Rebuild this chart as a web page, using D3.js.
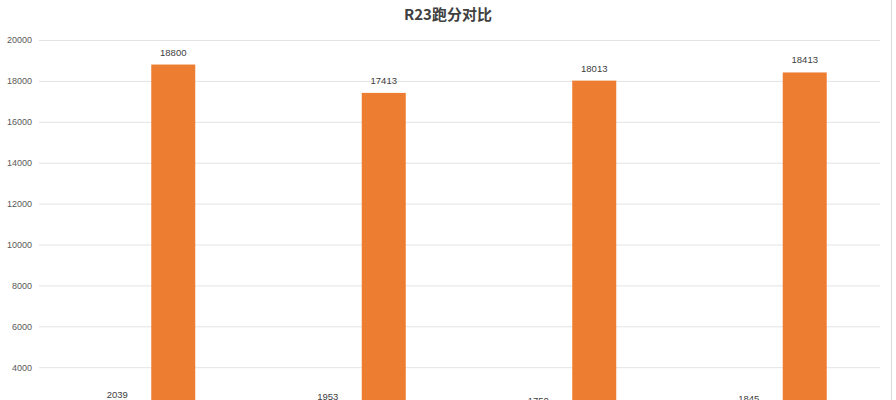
<!DOCTYPE html>
<html lang="zh">
<head>
<meta charset="UTF-8" />
<title>R23跑分对比</title>
<style>
  body { margin: 0; background: #fff; }
  svg { display: block; font-family: "Noto Sans CJK SC", "Noto Sans", sans-serif; }
</style>
</head>
<body>
<svg id="svg" width="896" height="400"></svg>
<script src="https://d3js.org/d3.v7.min.js"></script>
<script>
  // chart data
  const categories = ['1', '2', '3', '4'];
  const seriesNames = ['单核', '多核'];
  const singleCore = [2039, 1953, 1750, 1845];
  const multiCore = [18800, 17413, 18013, 18413];
  const tickValues = [4000, 6000, 8000, 10000, 12000, 14000, 16000, 18000, 20000];
  const colors = ['#4472C4', '#ED7D31'];

  const svg = d3.select('#svg');
  const W = 896, H = 400;

  // plot area (bottom of the original chart is cut off by the picture)
  const left = 40, right = 882;
  const yScale = d3.scaleLinear().domain([0, 20000]).range([449, 40]);
  const xScale = d3.scaleBand().domain(categories).range([left, right]);
  const inner = d3.scaleBand().domain(seriesNames)
    .range([xScale.bandwidth() / 2 - 50, xScale.bandwidth() / 2 + 50])
    .paddingInner(0.214);

  // right edge line of the chart frame
  svg.append('line')
    .attr('x1', 891.5).attr('x2', 891.5).attr('y1', 0).attr('y2', H)
    .attr('stroke', '#d9d9d9').attr('stroke-width', 1);

  // gridlines + tick labels
  const yAxis = svg.append('g')
    .attr('transform', `translate(${left - 3},0)`)
    .call(d3.axisLeft(yScale).tickValues(tickValues).tickSize(-(right - left + 1)).tickPadding(5).tickFormat(d3.format('d')));
  yAxis.select('.domain').remove();
  yAxis.selectAll('.tick line').attr('stroke', '#e3e3e3').attr('x1', 2);
  yAxis.selectAll('.tick text')
    .attr('fill', '#595959')
    .style('font-size', '9px')
    .style('font-family', '"Liberation Sans", "DejaVu Sans", sans-serif');

  const seriesData = [singleCore, multiCore];

  seriesNames.forEach((name, si) => {
    const g = svg.append('g');
    g.selectAll('rect')
      .data(categories)
      .enter()
      .append('rect')
      .attr('x', (c) => xScale(c) + inner(name))
      .attr('width', inner.bandwidth())
      .attr('y', (c, i) => yScale(seriesData[si][i]))
      .attr('height', (c, i) => yScale(0) - yScale(seriesData[si][i]))
      .attr('fill', colors[si]);

    g.selectAll('text')
      .data(categories)
      .enter()
      .append('text')
      .attr('x', (c) => xScale(c) + inner(name) + inner.bandwidth() / 2)
      .attr('y', (c, i) => yScale(seriesData[si][i]) - 9)
      .attr('text-anchor', 'middle')
      .attr('fill', '#404040')
      .style('font-size', '9.5px')
      .style('font-family', '"Liberation Sans", "DejaVu Sans", sans-serif')
      .text((c, i) => seriesData[si][i]);
  });

  // title
  svg.append('text')
    .attr('x', 448)
    .attr('y', 20)
    .attr('text-anchor', 'middle')
    .attr('fill', '#404040')
    .style('font-size', '15px')
    .style('font-weight', 'bold')
    .text('R23跑分对比');
</script>
</body>
</html>
